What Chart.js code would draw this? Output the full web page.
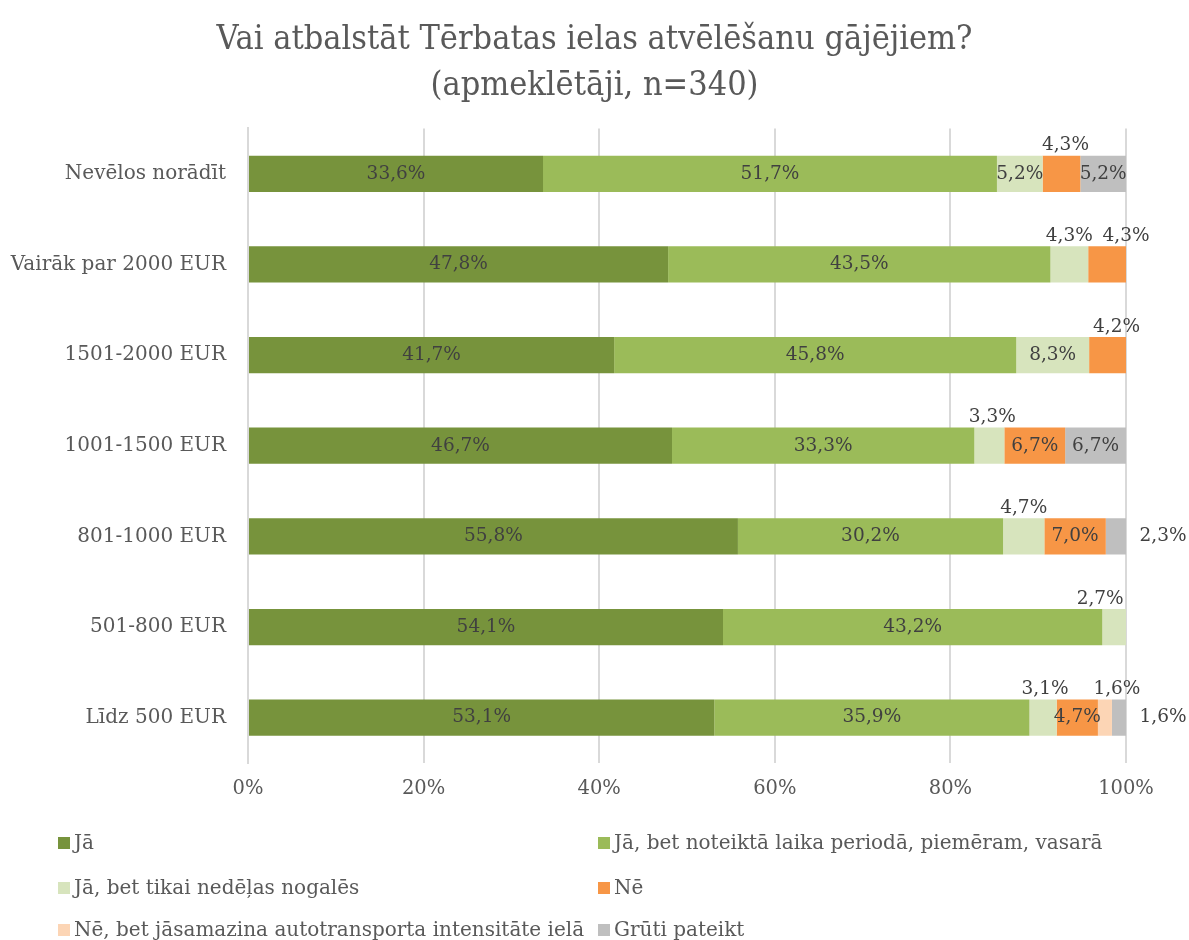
<!DOCTYPE html>
<html>
<head>
<meta charset="utf-8">
<script src="https://cdn.jsdelivr.net/npm/chart.js@4.4.1/dist/chart.umd.min.js"></script>
<style>
  body { margin: 0; background: #fff; }
  #wrap { position: relative; width: 1189px; height: 940px; }
  #legend { position: absolute; left: 0; top: 831px; width: 1189px; font-family: "DejaVu Serif", serif; font-size: 20px; color: #595959; }
  .item { position: absolute; white-space: nowrap; line-height: 22px; }
  .item span { display: inline-block; width: 12px; height: 12px; margin-right: 4px; vertical-align: 0px; }
</style>
</head>
<body>
<div id="wrap">
  <canvas id="chart" width="1189" height="940"></canvas>
  <div id="legend"></div>
</div>
<script>
const categories = ['Nevēlos norādīt', 'Vairāk par 2000 EUR', '1501-2000 EUR', '1001-1500 EUR', '801-1000 EUR', '501-800 EUR', 'Līdz 500 EUR'];
const seriesNames = ['Jā', 'Jā, bet noteiktā laika periodā, piemēram, vasarā', 'Jā, bet tikai nedēļas nogalēs', 'Nē', 'Nē, bet jāsamazina autotransporta intensitāte ielā', 'Grūti pateikt'];
const ja =        [33.6, 47.8, 41.7, 46.7, 55.8, 54.1, 53.1];
const jaPeriod =  [51.7, 43.5, 45.8, 33.3, 30.2, 43.2, 35.9];
const jaWeekend = [5.2, 4.3, 8.3, 3.3, 4.7, 2.7, 3.1];
const ne =        [4.3, 4.3, 4.2, 6.7, 7.0, 0, 4.7];
const neReduce =  [0, 0, 0, 0, 0, 0, 1.6];
const hard =      [5.2, 0, 0, 6.7, 2.3, 0, 1.6];
const xTicks = [0, 20, 40, 60, 80, 100];

const colors = ['#77933C', '#9BBB59', '#D7E4BD', '#F79646', '#FCD5B5', '#BFBFBF'];
const raw = [ja, jaPeriod, jaWeekend, ne, neReduce, hard];

// 100% stacked: each row scaled to its own total
const totals = categories.map((c, i) => raw.reduce((s, arr) => s + arr[i], 0));

// labels that do not sit inside the segment: "series-category" -> [where, dx]
const outside = {
  '3-0': ['top', 4],
  '2-1': ['top', 0],
  '3-1': ['top', 19],
  '3-2': ['top', 9],
  '2-3': ['top', 3],
  '2-4': ['top', 0],
  '2-5': ['top', -14],
  '2-6': ['top', 2],
  '4-6': ['top', 12],
  '5-4': ['right', 0],
  '5-6': ['right', 0]
};

const fmt = v => v.toFixed(1).replace('.', ',') + '%';

const labelPlugin = {
  id: 'segLabels',
  afterDatasetsDraw(chart) {
    const ctx = chart.ctx;
    ctx.save();
    ctx.font = '18.5px "DejaVu Serif"';
    ctx.fillStyle = '#404040';
    ctx.textAlign = 'center';
    ctx.textBaseline = 'middle';
    chart.data.datasets.forEach((ds, si) => {
      const meta = chart.getDatasetMeta(si);
      meta.data.forEach((bar, ci) => {
        const v = raw[si][ci];
        if (!v) return;
        const left = bar.base, right = bar.x;
        const top = bar.y - bar.height / 2;
        const pos = outside[si + '-' + ci];
        let x = (left + right) / 2, y = bar.y;
        if (pos && pos[0] === 'top') {
          x += pos[1];
          y = top - 10;
        } else if (pos && pos[0] === 'right') {
          x = chart.chartArea.right + 37;
        }
        ctx.fillText(fmt(v), x, y);
      });
    });
    ctx.restore();
  }
};

new Chart(document.getElementById('chart'), {
  type: 'bar',
  data: {
    labels: categories,
    datasets: seriesNames.map((name, si) => ({
      label: name,
      data: raw[si].map((v, i) => v / totals[i] * 100),
      backgroundColor: colors[si],
      borderWidth: 0,
      barPercentage: 0.4,
      categoryPercentage: 1
    }))
  },
  options: {
    indexAxis: 'y',
    responsive: false,
    animation: false,
    layout: { padding: { left: 0, right: 0, bottom: 137 } },
    plugins: {
      legend: { display: false },
      tooltip: { enabled: false },
      title: {
        display: true,
        text: ['Vai atbalstāt Tērbatas ielas atvēlēšanu gājējiem?', '(apmeklētāji, n=340)'],
        color: '#595959',
        font: { family: '"DejaVu Serif Condensed", "DejaVu Serif"', size: 34, weight: 'normal', lineHeight: 1.33 },
        padding: { top: 18, bottom: 20 }
      }
    },
    scales: {
      x: {
        stacked: true,
        min: 0,
        max: 100,
        afterFit: s => { s.height = 40; },
        afterBuildTicks: s => { s.ticks = xTicks.map(v => ({ value: v })); },
        grid: { color: '#D9D9D9', lineWidth: 2, drawTicks: false },
        border: { display: false },
        ticks: {
          color: '#595959',
          font: { family: '"DejaVu Serif"', size: 19.5 },
          padding: 14,
          callback: v => v + '%'
        }
      },
      y: {
        stacked: true,
        afterFit: s => { s.width = 248; },
        grid: { display: false, drawTicks: false },
        border: { color: '#D9D9D9', width: 2 },
        ticks: {
          color: '#595959',
          font: { family: '"DejaVu Serif"', size: 20 },
          padding: 22
        }
      },
      // empty right-hand axis: keeps room for the outside labels
      yRight: {
        type: 'category',
        axis: 'y',
        position: 'right',
        afterFit: s => { s.width = 63; },
        grid: { display: false, drawTicks: false },
        border: { display: false },
        ticks: { display: false }
      }
    }
  },
  plugins: [labelPlugin]
});

// legend in two columns
const legend = document.getElementById('legend');
const legendPos = [[58, 0], [598, 0], [58, 45], [598, 45], [58, 87], [598, 87]];
seriesNames.forEach((name, i) => {
  const d = document.createElement('div');
  d.className = 'item';
  d.style.left = legendPos[i][0] + 'px';
  d.style.top = legendPos[i][1] + 'px';
  d.innerHTML = '<span style="background:' + colors[i] + '"></span>' + name;
  legend.appendChild(d);
});
</script>
</body>
</html>
